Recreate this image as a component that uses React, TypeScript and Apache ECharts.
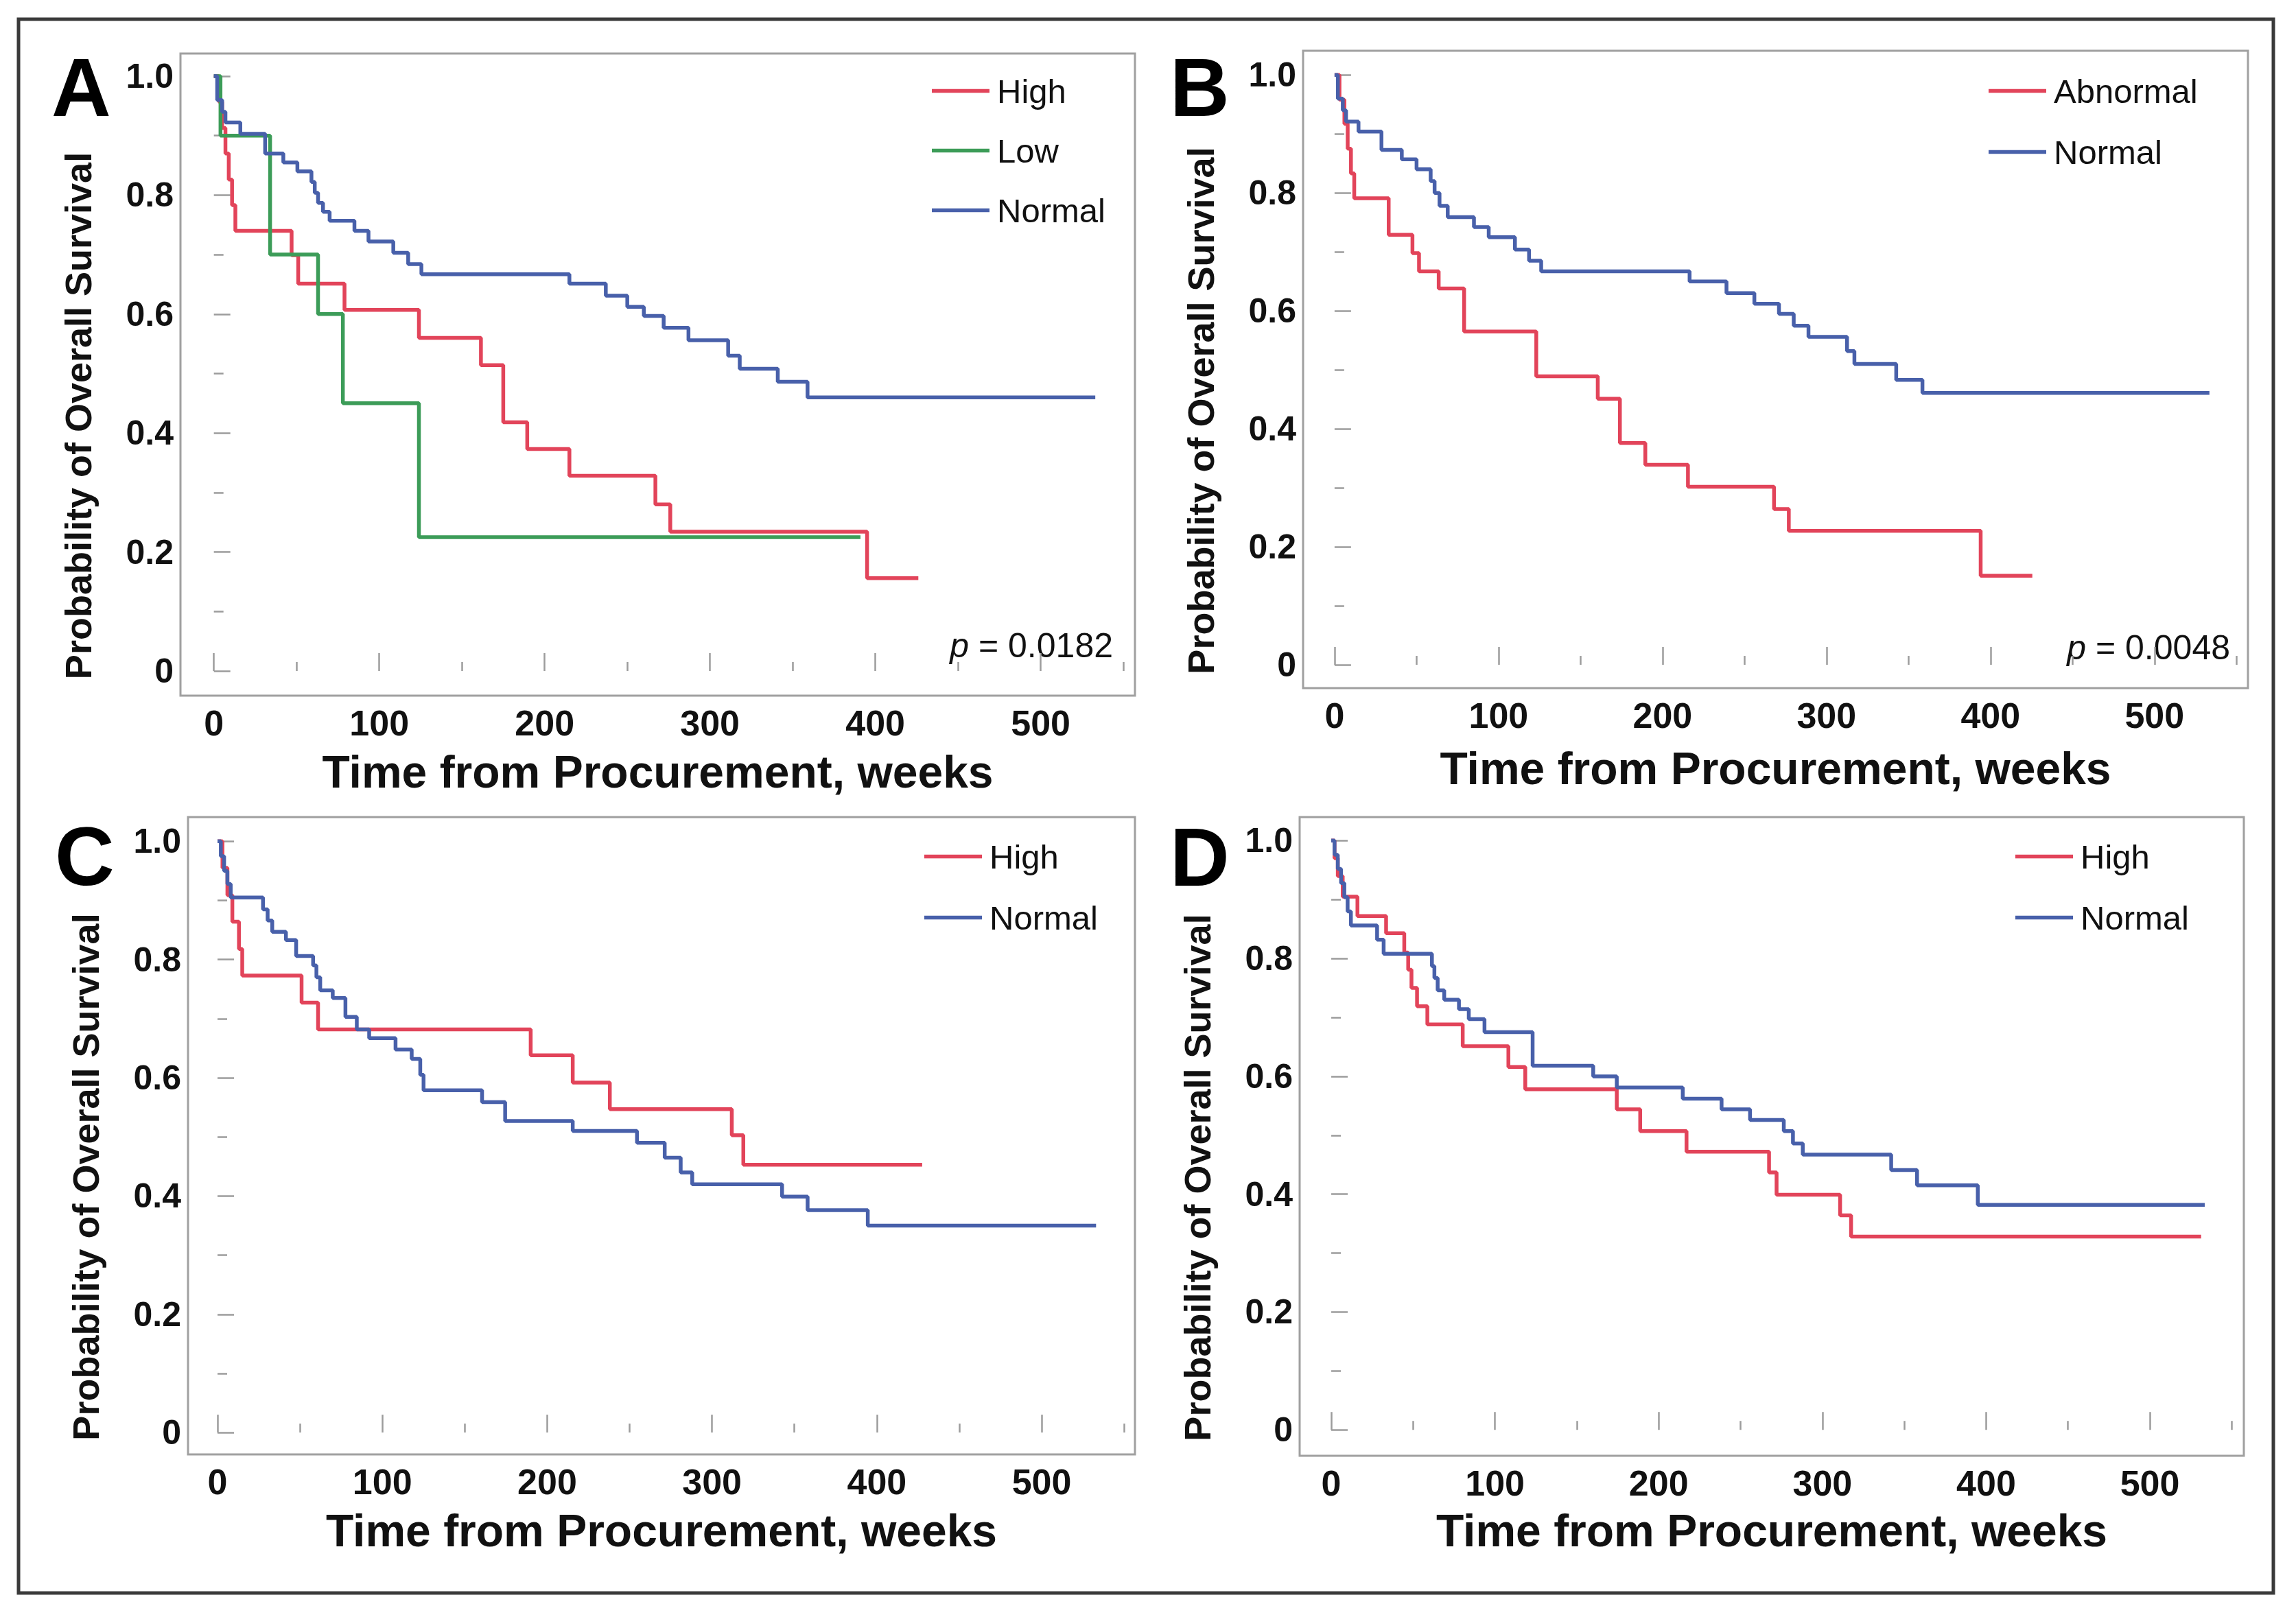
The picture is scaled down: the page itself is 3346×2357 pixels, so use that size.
import React, { useEffect, useRef } from 'react';
import * as echarts from 'echarts';

// ---------- tick labels ----------
const xMajorTicks = [0, 100, 200, 300, 400, 500];
const xMinorTicks = [50, 150, 250, 350, 450, 550];
const yMajorTicks = [0, 0.2, 0.4, 0.6, 0.8, 1.0];
const yMinorTicks = [0.1, 0.3, 0.5, 0.7, 0.9];

// ---------- Panel A ----------
const aHighT = [0, 3, 5, 7, 9, 11, 13, 47, 51, 79, 124, 161.5, 175, 189.5, 215, 267, 276, 395, 426];
const aHighS = [1, 0.957, 0.913, 0.87, 0.826, 0.783, 0.74, 0.699, 0.651, 0.607, 0.56, 0.514, 0.418, 0.373, 0.328, 0.28, 0.234, 0.156, 0.156];
const aLowT = [0, 4, 34, 63, 78, 124, 391];
const aLowS = [1, 0.9, 0.7, 0.6, 0.45, 0.225, 0.225];
const aNormT = [0, 2, 5, 7, 16, 31, 42, 50.5, 59, 61, 63, 66, 70, 85, 93.5, 108.5, 117.5, 125.5, 215, 237, 250, 260, 272, 287, 311, 318, 341, 359, 533];
const aNormS = [1, 0.96, 0.94, 0.922, 0.903, 0.87, 0.855, 0.84, 0.822, 0.804, 0.787, 0.772, 0.757, 0.74, 0.722, 0.703, 0.684, 0.667, 0.651, 0.631, 0.612, 0.597, 0.577, 0.556, 0.53, 0.508, 0.486, 0.46, 0.46];

// ---------- Panel B ----------
const bAbnT = [0, 3, 6, 8, 10, 12, 33, 47.5, 51.5, 63.5, 79, 123, 160.5, 174, 189.5, 215.5, 268, 277, 394, 425.5];
const bAbnS = [1, 0.958, 0.917, 0.875, 0.833, 0.791, 0.729, 0.698, 0.667, 0.638, 0.565, 0.489, 0.451, 0.376, 0.339, 0.302, 0.264, 0.227, 0.151, 0.151];
const bNormT = [0, 2, 5, 7, 14.6, 28.6, 41, 50, 58.6, 61, 64, 69, 85, 94, 110, 118.6, 126, 216.5, 239, 256, 271, 280, 289, 312.5, 317, 342.5, 358.5, 533.5];
const bNormS = [1, 0.96, 0.94, 0.921, 0.904, 0.873, 0.857, 0.84, 0.82, 0.8, 0.778, 0.759, 0.742, 0.725, 0.704, 0.685, 0.667, 0.65, 0.63, 0.612, 0.595, 0.575, 0.556, 0.532, 0.51, 0.483, 0.461, 0.461];

// ---------- Panel C ----------
const cHighT = [0, 3, 6, 9, 13, 15, 51, 61, 190, 215.5, 238, 312, 319, 427.5];
const cHighS = [1, 0.955, 0.909, 0.864, 0.818, 0.773, 0.727, 0.682, 0.638, 0.592, 0.547, 0.503, 0.453, 0.453];
const cNormT = [0, 2, 4, 6, 8, 27.6, 30.4, 33.2, 41.5, 47.7, 58, 60, 62.3, 69.9, 77.6, 84.5, 92, 108, 117.8, 123, 125, 160.5, 174.5, 215.5, 254.5, 271.3, 281, 288, 342.5, 358, 394.5, 533];
const cNormS = [1, 0.975, 0.95, 0.928, 0.905, 0.885, 0.866, 0.847, 0.833, 0.806, 0.79, 0.77, 0.748, 0.735, 0.703, 0.682, 0.667, 0.648, 0.632, 0.605, 0.579, 0.559, 0.527, 0.51, 0.49, 0.465, 0.44, 0.42, 0.399, 0.376, 0.35, 0.35];

// ---------- Panel D ----------
const dHighT = [0, 2, 4, 7, 16, 33.5, 44.6, 47, 49, 52.4, 58.7, 80.3, 108.2, 118.5, 174.4, 188.7, 217, 267.4, 272, 310.8, 317.5, 531.3];
const dHighS = [1, 0.97, 0.94, 0.905, 0.872, 0.843, 0.81, 0.781, 0.75, 0.719, 0.688, 0.651, 0.616, 0.578, 0.544, 0.507, 0.472, 0.437, 0.399, 0.364, 0.328, 0.328];
const dNormT = [0, 2, 4, 6, 8, 10, 12, 28, 32, 61.5, 63, 65, 69, 78, 84, 93.6, 123, 160, 174.4, 214.7, 238.4, 255.8, 276.4, 282, 288, 342, 357.8, 394.9, 533.5];
const dNormS = [1, 0.976, 0.952, 0.928, 0.904, 0.88, 0.856, 0.832, 0.808, 0.787, 0.767, 0.746, 0.73, 0.714, 0.697, 0.675, 0.618, 0.6, 0.581, 0.562, 0.544, 0.526, 0.507, 0.486, 0.467, 0.441, 0.415, 0.382, 0.382];

const pValueA = '0.0182';
const pValueB = '0.0048';

const RED = '#e2445a';
const GREEN = '#3c9c58';
const BLUE = '#4860aa';
const FONT = '"Liberation Sans", Arial, Helvetica, sans-serif';
const TXT = '#111111';
const TICK = '#9c9c9c';
const LEGEND_ICON = 'path://M0,0L84,0L84,5.5L0,5.5Z';

const zip = (t: number[], s: number[]) => t.map((v, i) => [v, s[i]]);

const panels = [
  {
    letter: 'A', grid: { left: 263, top: 78, width: 1391, height: 936 }, x: [-20.2, 557], y: [-0.0415, 1.038],
    xNameGap: 78, letterPos: [75, 127], legend: { left: 1358, top: 108, gap: 38 },
    pText: pValueA, pPos: [1622, 941],
    series: [
      { name: 'High', t: aHighT, s: aHighS, color: RED },
      { name: 'Low', t: aLowT, s: aLowS, color: GREEN },
      { name: 'Normal', t: aNormT, s: aNormS, color: BLUE },
    ],
  },
  {
    letter: 'B', grid: { left: 1899, top: 74, width: 1377, height: 929 }, x: [-19.2, 557], y: [-0.0395, 1.041],
    xNameGap: 84, letterPos: [1705, 127], legend: { left: 2898, top: 108, gap: 40 },
    pText: pValueB, pPos: [3250, 944],
    series: [
      { name: 'Abnormal', t: bAbnT, s: bAbnS, color: RED },
      { name: 'Normal', t: bNormT, s: bNormS, color: BLUE },
    ],
  },
  {
    letter: 'C', grid: { left: 274, top: 1191, width: 1380, height: 929 }, x: [-17.9, 556.6], y: [-0.037, 1.041],
    xNameGap: 78, letterPos: [80, 1248], legend: { left: 1347, top: 1224, gap: 40 },
    pText: null, pPos: null,
    series: [
      { name: 'High', t: cHighT, s: cHighS, color: RED },
      { name: 'Normal', t: cNormT, s: cNormS, color: BLUE },
    ],
  },
  {
    letter: 'D', grid: { left: 1894, top: 1191, width: 1376, height: 931 }, x: [-19.3, 557.4], y: [-0.044, 1.04],
    xNameGap: 76, letterPos: [1705, 1249], legend: { left: 2937, top: 1224, gap: 40 },
    pText: null, pPos: null,
    series: [
      { name: 'High', t: dHighT, s: dHighS, color: RED },
      { name: 'Normal', t: dNormT, s: dNormS, color: BLUE },
    ],
  },
];

function buildOption() {
  const grid: any[] = [];
  const xAxis: any[] = [];
  const yAxis: any[] = [];
  const series: any[] = [];
  const legend: any[] = [];
  const graphic: any[] = [];

  graphic.push({
    type: 'rect', shape: { x: 27, y: 28, width: 3286, height: 2294 },
    style: { fill: 'none', stroke: '#3a3a3a', lineWidth: 5 }, silent: true,
  });

  panels.forEach((p, i) => {
    grid.push({ ...p.grid, show: true, borderColor: '#a0a0a0', borderWidth: 3, backgroundColor: 'transparent' });

    xAxis.push({
      type: 'value', gridIndex: i, min: p.x[0], max: p.x[1], position: 'bottom',
      axisLine: { show: false }, splitLine: { show: false },
      axisTick: { show: true, inside: true, length: 26, customValues: xMajorTicks, lineStyle: { color: TICK, width: 2.5 } },
      axisLabel: { customValues: xMajorTicks, fontSize: 52, fontWeight: 'bold', color: TXT, margin: 14, fontFamily: FONT },
      name: 'Time from Procurement, weeks', nameLocation: 'middle', nameGap: p.xNameGap,
      nameTextStyle: { fontSize: 66, fontWeight: 'bold', color: TXT, fontFamily: FONT },
    });
    xAxis.push({
      type: 'value', gridIndex: i, min: p.x[0], max: p.x[1], position: 'bottom',
      axisLine: { show: false }, splitLine: { show: false }, axisLabel: { show: false },
      axisTick: { show: true, inside: true, length: 13, customValues: xMinorTicks, lineStyle: { color: TICK, width: 2.5 } },
    });
    yAxis.push({
      type: 'value', gridIndex: i, min: p.y[0], max: p.y[1], position: 'left',
      axisLine: { show: false }, splitLine: { show: false },
      axisTick: { show: true, inside: true, length: 24, customValues: yMajorTicks, lineStyle: { color: TICK, width: 2.5 } },
      axisLabel: {
        customValues: yMajorTicks, fontSize: 50, fontWeight: 'bold', color: TXT, margin: 10, fontFamily: FONT,
        formatter: (v: number) => (Math.abs(v) < 1e-9 ? '0' : v.toFixed(1)),
      },
      name: 'Probability of Overall Survival', nameLocation: 'middle', nameGap: 122, nameRotate: 90,
      nameTextStyle: { fontSize: 54, fontWeight: 'bold', color: TXT, fontFamily: FONT, padding: [0, 120, 0, 0] },
    });
    yAxis.push({
      type: 'value', gridIndex: i, min: p.y[0], max: p.y[1], position: 'left',
      axisLine: { show: false }, splitLine: { show: false }, axisLabel: { show: false },
      axisTick: { show: true, inside: true, length: 14, customValues: yMinorTicks, lineStyle: { color: TICK, width: 2.5 } },
    });

    p.series.forEach((s) => {
      series.push({
        type: 'line', name: s.name, step: 'end', symbol: 'none', showSymbol: false,
        xAxisIndex: 2 * i, yAxisIndex: 2 * i,
        data: zip(s.t, s.s),
        lineStyle: { color: s.color, width: 5.5 }, itemStyle: { color: s.color },
        silent: true, clip: true,
      });
    });

    legend.push({
      data: p.series.map((s) => s.name), orient: 'vertical', left: p.legend.left, top: p.legend.top,
      itemWidth: 84, itemHeight: 48, itemGap: p.legend.gap, padding: 0, selectedMode: false,
      icon: LEGEND_ICON, symbolKeepAspect: true,
      textStyle: { fontSize: 49, lineHeight: 48, color: TXT, fontFamily: FONT, padding: [0, 0, 0, 6] },
    });

    graphic.push({
      type: 'text', x: p.letterPos[0], y: p.letterPos[1], silent: true,
      style: { text: p.letter, fontSize: 120, fontWeight: 'bold', fontFamily: FONT, fill: '#000', align: 'left', verticalAlign: 'middle' },
    });

    if (p.pText && p.pPos) {
      graphic.push({
        type: 'text', x: p.pPos[0], y: p.pPos[1], silent: true,
        style: {
          text: '{i|p} = ' + p.pText, fontSize: 50, fontFamily: FONT, fill: TXT, align: 'right', verticalAlign: 'middle',
          rich: { i: { fontStyle: 'italic', fontSize: 50, fontFamily: FONT, fill: TXT } },
        },
      });
    }
  });

  return { animation: false, backgroundColor: '#ffffff', grid, xAxis, yAxis, series, legend, graphic };
}

export default function App() {
  const ref = useRef<HTMLDivElement>(null);
  useEffect(() => {
    const chart = echarts.init(ref.current as HTMLDivElement, null, { renderer: 'svg', width: 3346, height: 2357 });
    chart.setOption(buildOption() as any);
    return () => chart.dispose();
  }, []);
  return (
    <div
      ref={ref}
      style={{ position: 'fixed', left: 0, top: 0, width: 3346, height: 2357, background: '#ffffff' }}
    />
  );
}
